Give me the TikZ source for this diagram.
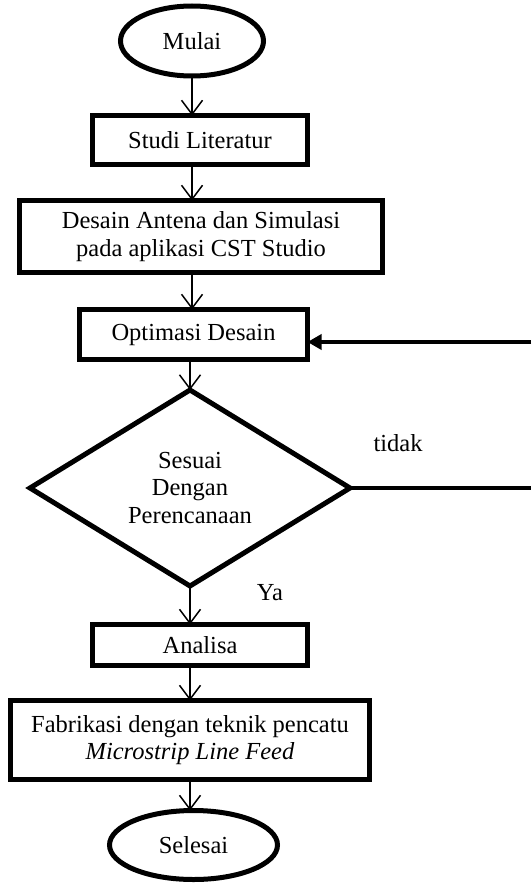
\documentclass[tikz,border=0pt]{standalone}
\usepackage{fontspec}
\setmainfont{Liberation Serif}
\usetikzlibrary{shapes.geometric,arrows.meta}
\begin{document}
\begin{tikzpicture}[x=1pt,y=-1pt,
  every node/.style={font=\fontsize{24.5}{27.5}\selectfont, align=center, inner sep=0pt, outer sep=0pt},
  box/.style={draw, rectangle, line width=5pt},
  term/.style={draw, ellipse, line width=5pt},
  decision/.style={draw, diamond, line width=5pt, aspect=1.63},
  arr/.style={line width=1.5pt, -{Straight Barb[length=14pt,width=21pt,line width=1.5pt]}},
  hline/.style={line width=3.4pt}
]
\useasboundingbox (0,0) rectangle (531,883);

\node[term, minimum width=143pt, minimum height=70pt] (mulai) at (192,41) {Mulai};
\node[box, minimum width=215pt, minimum height=49pt] (studi) at (200,140) {Studi Literatur};
\node[box, minimum width=363pt, minimum height=72pt] (desain) at (201,236.5) {Desain Antena dan Simulasi\\pada aplikasi CST Studio};
\node[box, minimum width=228pt, minimum height=50pt] (opt) at (193.5,334.5) {Optimasi Desain};
\node[decision, minimum width=320pt, minimum height=196pt] (dia) at (190,488) {Sesuai\\Dengan\\Perencanaan};
\node[box, minimum width=215pt, minimum height=41pt] (analisa) at (200,645) {Analisa};
\node[box, minimum width=359pt, minimum height=79pt] (fab) at (190,740) {Fabrikasi dengan teknik pencatu\\\textit{Microstrip Line Feed}};
\node[term, minimum width=168pt, minimum height=69pt] (selesai) at (193.5,845) {Selesai};

\node (tidak) at (398,443) {tidak};
\node (ya) at (270,593) {Ya};

\coordinate (r1) at (531,342);
\coordinate (r2) at (531,488);

\draw[arr] (mulai.south) -- (mulai.south |- studi.north);
\draw[arr] (studi.south -| mulai) -- (desain.north -| mulai);
\draw[arr] (desain.south -| mulai) -- (opt.north -| mulai);
\draw[arr] (opt.south -| dia) -- (dia.north);
\draw[arr] (dia.south) -- (dia.south |- analisa.north);
\draw[arr] (analisa.south -| dia) -- (fab.north -| dia);
\draw[arr] (fab.south -| dia) -- (selesai.north -| dia);

\draw[hline, -{Triangle[length=14pt,width=15pt]}] (r1) -- (r1 -| opt.east);
\draw[hline] (dia.east) -- (r2);
\end{tikzpicture}
\end{document}
